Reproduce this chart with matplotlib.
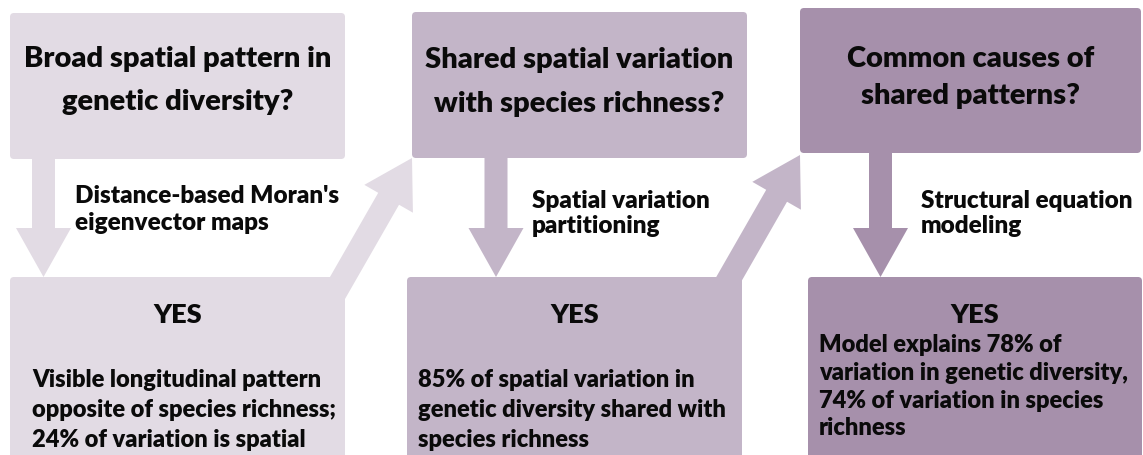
import matplotlib
matplotlib.use("Agg")
import matplotlib.pyplot as plt
from matplotlib.patches import FancyBboxPatch, Polygon
import numpy as np

plt.rcParams['font.family'] = ['Lato', 'DejaVu Sans']

# colours of the three steps, light to dark
step_colors = ["#e2dbe4", "#c3b5c8", "#a690ab"]

questions = [
    ["Broad spatial pattern in", "genetic diversity?"],
    ["Shared spatial variation", "with species richness?"],
    ["Common causes of", "shared patterns?"],
]
methods = [
    ["Distance-based Moran's", "eigenvector maps"],
    ["Spatial variation", "partitioning"],
    ["Structural equation", "modeling"],
]
answers = ["YES", "YES", "YES"]
findings = [
    ["Visible longitudinal pattern", "opposite of species richness;",
     "24% of variation is spatial"],
    ["85% of spatial variation in", "genetic diversity shared with",
     "species richness"],
    ["Model explains 78% of", "variation in genetic diversity,",
     "74% of variation in species", "richness"],
]

# layout, in pixels (y downwards)
top_boxes = [(10, 13, 345, 159), (412, 12, 747, 158), (800, 8, 1141, 153)]
bottom_boxes = [(10, 277, 345, 470), (407, 277, 742, 470), (808, 277, 1142, 470)]
question_base = [[67, 110], [68, 112], [67, 104]]
method_x = [75, 532, 921]
method_base = [[203, 230], [208, 233], [208, 233]]
finding_x = [32, 418, 819]
finding_base = [[387, 417, 447], [387, 417, 447], [352, 380, 408, 435]]
down_arrows = [(43.5, 150, 43.5, 277), (496, 150, 496, 277), (880.5, 145, 880.5, 277)]
up_arrows = [(322, 315, 412, 158), (710, 312, 800, 155)]

WEIGHT = "heavy"


def arrow_poly(x0, y0, x1, y1, shaft_w=23, head_w=55, head_len=49):
    d = np.array([x1 - x0, y1 - y0], float)
    L = np.hypot(*d)
    u = d / L
    n = np.array([-u[1], u[0]])
    p0 = np.array([x0, y0], float)
    hb = p0 + u * (L - head_len)
    pts = [p0 + n * shaft_w / 2, hb + n * shaft_w / 2, hb + n * head_w / 2,
           np.array([x1, y1], float),
           hb - n * head_w / 2, hb - n * shaft_w / 2, p0 - n * shaft_w / 2]
    return np.array(pts)


fig = plt.figure(figsize=(11.43, 4.55), dpi=100)
ax = fig.add_axes([0, 0, 1, 1])
ax.set_xlim(0, 1143)
ax.set_ylim(455, 0)
ax.axis("off")

for i, (x0, y0, x1, y1) in enumerate(down_arrows):
    ax.add_patch(Polygon(arrow_poly(x0, y0, x1, y1), closed=True,
                         fc=step_colors[i], ec="none", zorder=1))
for i, (x0, y0, x1, y1) in enumerate(up_arrows):
    ax.add_patch(Polygon(arrow_poly(x0, y0, x1, y1, 24, 56, 47), closed=True,
                         fc=step_colors[i], ec="none", zorder=1))

for i in range(3):
    for boxes in (top_boxes, bottom_boxes):
        x0, y0, x1, y1 = boxes[i]
        ax.add_patch(FancyBboxPatch((x0, y0), x1 - x0, y1 - y0,
                                    boxstyle="round,pad=0,rounding_size=4",
                                    fc=step_colors[i], ec="none", zorder=2))

    tx = (top_boxes[i][0] + top_boxes[i][2]) / 2
    for line, yb in zip(questions[i], question_base[i]):
        ax.text(tx, yb, line, ha="center", va="baseline", fontsize=21,
                fontweight=WEIGHT, color="#0a0a0a", zorder=3)

    for line, yb in zip(methods[i], method_base[i]):
        ax.text(method_x[i], yb, line, ha="left", va="baseline", fontsize=17.5,
                fontweight=WEIGHT, color="#0a0a0a", zorder=3)

    bx = (bottom_boxes[i][0] + bottom_boxes[i][2]) / 2
    ax.text(bx, 323, answers[i], ha="center", va="baseline", fontsize=19.5,
            fontweight=WEIGHT, color="#0a0a0a", zorder=3)
    for line, yb in zip(findings[i], finding_base[i]):
        ax.text(finding_x[i], yb, line, ha="left", va="baseline", fontsize=17,
                fontweight=WEIGHT, color="#0a0a0a", zorder=3)

fig.savefig("out.png", dpi=100)
